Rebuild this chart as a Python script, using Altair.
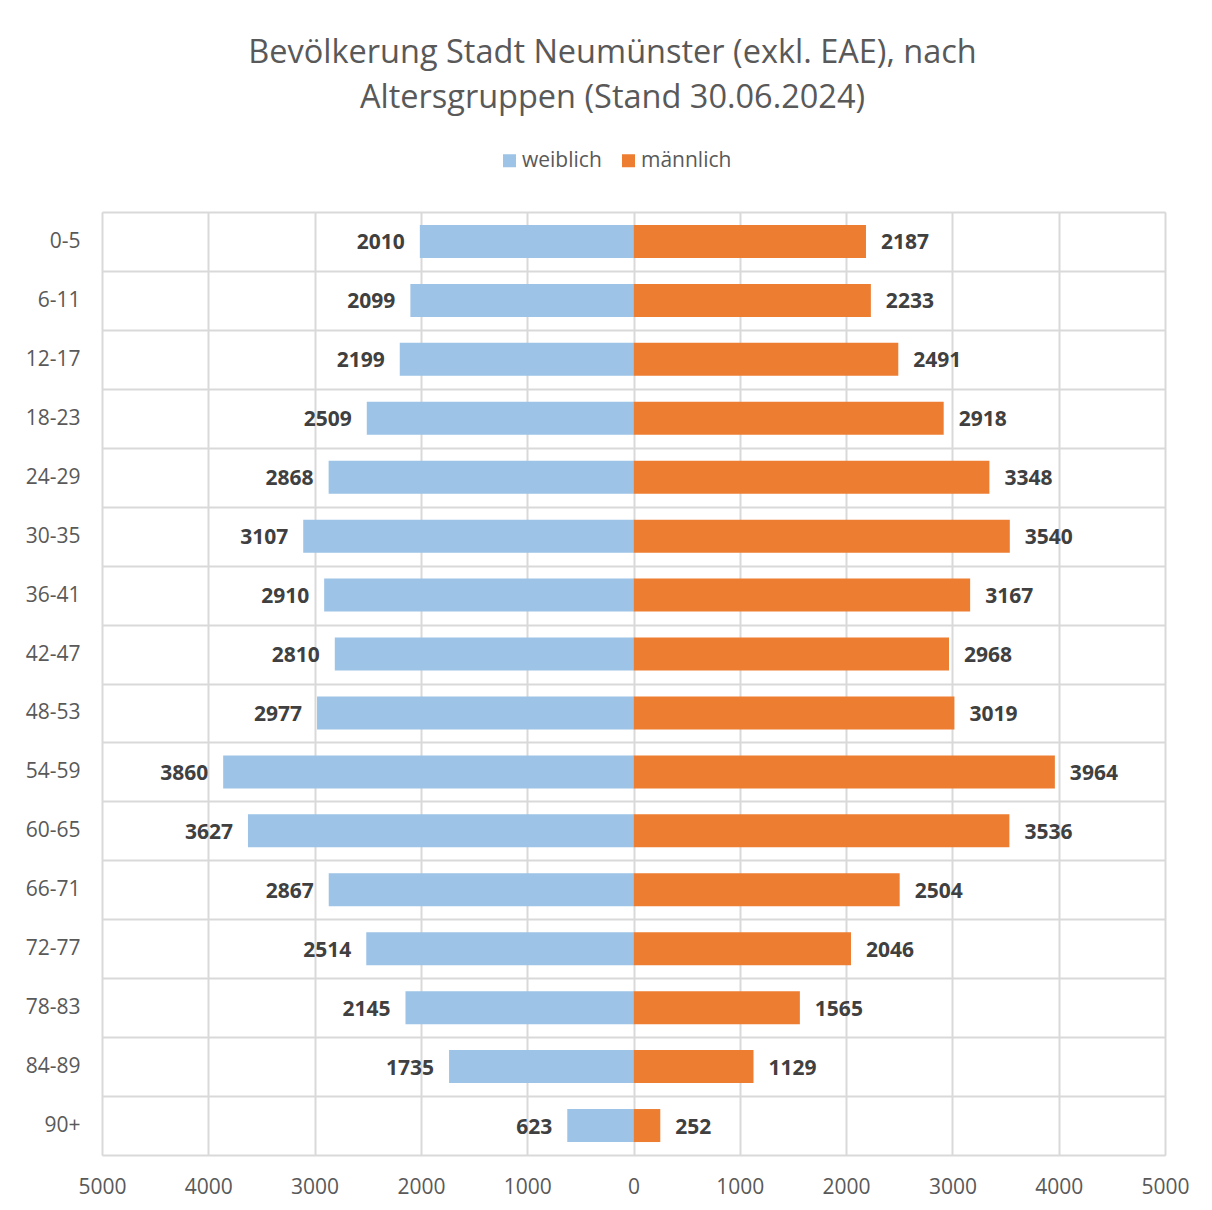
import altair as alt
import pandas as pd

groups = ["0-5", "6-11", "12-17", "18-23", "24-29", "30-35", "36-41", "42-47",
          "48-53", "54-59", "60-65", "66-71", "72-77", "78-83", "84-89", "90+"]
female = [2010, 2099, 2199, 2509, 2868, 3107, 2910, 2810, 2977, 3860, 3627,
          2867, 2514, 2145, 1735, 623]
male = [2187, 2233, 2491, 2918, 3348, 3540, 3167, 2968, 3019, 3964, 3536,
        2504, 2046, 1565, 1129, 252]
sexes = ["weiblich", "männlich"]
colors = ["#9DC3E6", "#ED7D31"]
x_ticks = list(range(-5000, 5001, 1000))

rows = []
for g, f, m in zip(groups, female, male):
    rows.append({"group": g, "sex": sexes[0], "value": f, "x": -f})
    rows.append({"group": g, "sex": sexes[1], "value": m, "x": m})
df = pd.DataFrame(rows)

FONT = "Open Sans"
GRID = "#d9d9d9"
LABEL = "#595959"

y_enc = alt.Y(
    "group:N", sort=groups,
    scale=alt.Scale(paddingInner=0, paddingOuter=0),
    axis=alt.Axis(title=None, tickBand="extent", grid=True, gridColor=GRID,
                  gridWidth=2, domain=False, ticks=False, labelFontSize=21,
                  labelColor=LABEL, labelPadding=22, labelFont=FONT),
)
x_enc = alt.X(
    "x:Q",
    scale=alt.Scale(domain=[-5000, 5000], nice=False),
    axis=alt.Axis(title=None, values=x_ticks, labelExpr="abs(datum.value)",
                  grid=True, gridColor=GRID, gridWidth=2, domain=False,
                  ticks=False, labelFontSize=21, labelColor=LABEL,
                  labelPadding=21, labelFlush=False, labelOverlap=False,
                  labelFont=FONT),
)

base = alt.Chart(df)

bars = base.mark_bar(height={"band": 0.56}).encode(
    x=x_enc,
    y=y_enc,
    color=alt.Color(
        "sex:N",
        scale=alt.Scale(domain=sexes, range=colors),
        legend=alt.Legend(title=None, orient="none", legendX=397, legendY=-62,
                          direction="horizontal", symbolType="square",
                          symbolSize=169, symbolStrokeWidth=0,
                          labelFontSize=21, labelColor=LABEL, labelFont=FONT,
                          labelOffset=2, columnPadding=16),
    ),
)

txt_f = base.transform_filter(alt.datum.sex == sexes[0]).mark_text(
    align="right", dx=-15, dy=2, fontSize=21, fontWeight="bold",
    color="#404040", font=FONT, baseline="middle"
).encode(x="x:Q", y=alt.Y("group:N", sort=groups), text="value:Q")

txt_m = base.transform_filter(alt.datum.sex == sexes[1]).mark_text(
    align="left", dx=15, dy=2, fontSize=21, fontWeight="bold",
    color="#404040", font=FONT, baseline="middle"
).encode(x="x:Q", y=alt.Y("group:N", sort=groups), text="value:Q")

chart = alt.layer(bars, txt_f, txt_m).properties(
    width=1063,
    height=943,
    title=alt.TitleParams(
        ["Bevölkerung Stadt Neumünster (exkl. EAE), nach",
         "Altersgruppen (Stand 30.06.2024)"],
        fontSize=32.5, font=FONT, fontWeight="normal", color=LABEL,
        lineHeight=45, anchor="middle", dx=-21, offset=36,
    ),
    autosize=alt.AutoSizeParams(type="none"),
    padding={"left": 94, "top": 204, "right": 39, "bottom": 47},
).configure_view(stroke=GRID, strokeWidth=2).configure(background="white")

chart.save("out.html", embed_options={"renderer": "svg", "actions": False})
